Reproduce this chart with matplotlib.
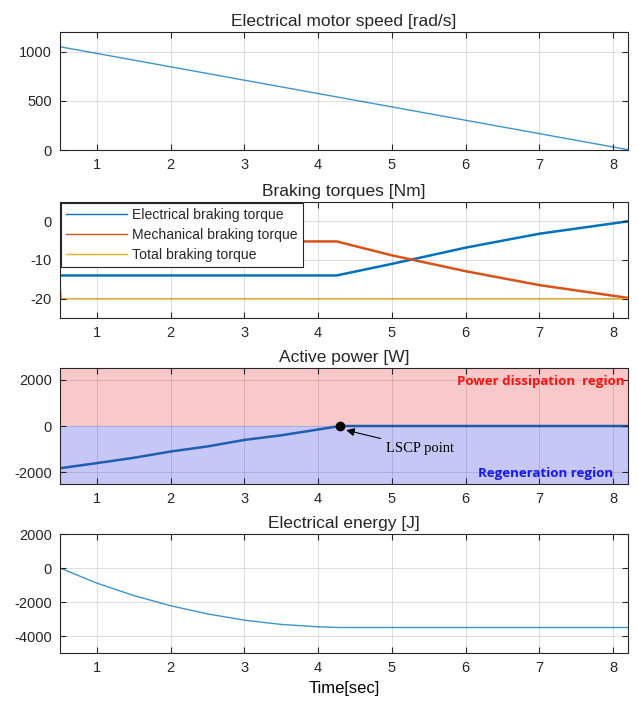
import numpy as np
import matplotlib
matplotlib.use('Agg')
import matplotlib.pyplot as plt

plt.rcParams['font.family'] = ['Liberation Sans', 'DejaVu Sans']
plt.rcParams['axes.unicode_minus'] = False
plt.rcParams['text.color'] = '#262626'
plt.rcParams['axes.edgecolor'] = '#262626'
plt.rcParams['xtick.color'] = '#262626'
plt.rcParams['ytick.color'] = '#262626'

# 모터 속도
t_speed = [0.5, 8.2]
speed = [1050, 3]

# 제동 토크
t_elec = [0.5, 4.25, 5.0, 6.0, 7.0, 8.2]
tq_elec = [-14.0, -14.0, -11.0, -6.8, -3.2, 0.0]
t_mech = [0.5, 4.25, 5.0, 6.0, 7.0, 8.2]
tq_mech = [-5.2, -5.2, -8.8, -12.9, -16.5, -19.8]
t_total = [0.5, 0.52, 8.2]
tq_total = [-16.0, -20.0, -20.0]

# 유효 전력
t_power = [0.5, 1.0, 1.5, 2.0, 2.5, 3.0, 3.5, 4.0, 4.3, 8.2]
power = [-1820, -1600, -1370, -1100, -880, -600, -400, -150, 0, 0]
lscp = (4.3, 0)

# 전기 에너지
t_energy = [0.5, 1.0, 1.5, 2.0, 2.5, 3.0, 3.5, 4.0, 4.3, 8.2]
energy = [0, -890, -1620, -2220, -2700, -3070, -3320, -3460, -3500, -3500]

xticks = [1, 2, 3, 4, 5, 6, 7, 8]

fig = plt.figure(figsize=(6.38, 7.04), dpi=100)
W, H = 638, 704


def make_ax(top, bottom, left=60, right=628):
    return fig.add_axes([left / W, 1 - bottom / H, (right - left) / W, (bottom - top) / H])


def style(ax, title):
    ax.set_xlim(0.5, 8.2)
    ax.set_xticks(xticks)
    ax.grid(True, color='#262626', alpha=0.15, linewidth=0.7)
    ax.set_axisbelow(False)
    ax.tick_params(direction='in', top=True, right=True, labelsize=10.5, length=4, pad=6)
    ax.set_title(title, fontsize=12.5, pad=4)
    for s in ax.spines.values():
        s.set_linewidth(0.8)


ax1 = make_ax(32, 150)
ax2 = make_ax(202, 318)
ax3 = make_ax(368, 484)
ax4 = make_ax(534, 653)

# 1) 속도
ax1.plot(t_speed, speed, color='#3d95cc', linewidth=1.0)
ax1.set_ylim(0, 1200)
ax1.set_yticks([0, 500, 1000])
style(ax1, 'Electrical motor speed [rad/s]')

# 2) 토크
ax2.plot(t_elec, tq_elec, color='#0072BD', linewidth=1.8, label='Electrical braking torque')
ax2.plot(t_mech, tq_mech, color='#D95319', linewidth=1.8, label='Mechanical braking torque')
ax2.plot(t_total, tq_total, color='#EDB120', linewidth=1.0, label='Total braking torque')
ax2.set_ylim(-25, 5)
ax2.set_yticks([-20, -10, 0])
style(ax2, 'Braking torques [Nm]')
leg = ax2.legend(loc='upper left', fontsize=10.1, frameon=True, fancybox=False,
                 borderaxespad=0.1, handlelength=4.3, handletextpad=0.4,
                 labelspacing=0.42, borderpad=0.35)
leg.get_frame().set_edgecolor('#262626')
leg.get_frame().set_linewidth(0.8)
leg.get_frame().set_alpha(1)
for h in leg.get_lines():
    h.set_linewidth(1.0)

# 3) 전력
ax3.axhspan(0, 2500, color='#f9c8c9', zorder=0)
ax3.axhspan(-2500, 0, color='#c6c6f7', zorder=0)
ax3.plot(t_power, power, color='#1f5fb0', linewidth=1.8)
ax3.plot(*lscp, 'o', color='black', markersize=6)
ax3.annotate('LSCP point', xy=(4.38, -180), xytext=(4.92, -950),
             fontsize=10.5, family=['Liberation Serif', 'DejaVu Serif'], color='black',
             va='center', ha='left',
             arrowprops=dict(arrowstyle='-|>', color='black', lw=0.8,
                             mutation_scale=12, shrinkA=2, shrinkB=0))
ax3.text(8.15, 1900, 'Power dissipation  region', color='#ff1010', fontweight='bold',
         fontsize=9.5, ha='right', va='center', family=['Open Sans', 'DejaVu Sans'])
ax3.text(8.0, -2040, 'Regeneration region', color='#1515ff', fontweight='bold',
         fontsize=9.5, ha='right', va='center', family=['Open Sans', 'DejaVu Sans'])
ax3.set_ylim(-2500, 2500)
ax3.set_yticks([-2000, 0, 2000])
style(ax3, 'Active power [W]')

# 4) 에너지
ax4.plot(t_energy, energy, color='#3d95cc', linewidth=1.0)
ax4.set_ylim(-5000, 2000)
ax4.set_yticks([-4000, -2000, 0, 2000])
style(ax4, 'Electrical energy [J]')
ax4.set_xlabel('Time[sec]', fontsize=12, labelpad=4)

fig.savefig('out.png', dpi=100)
